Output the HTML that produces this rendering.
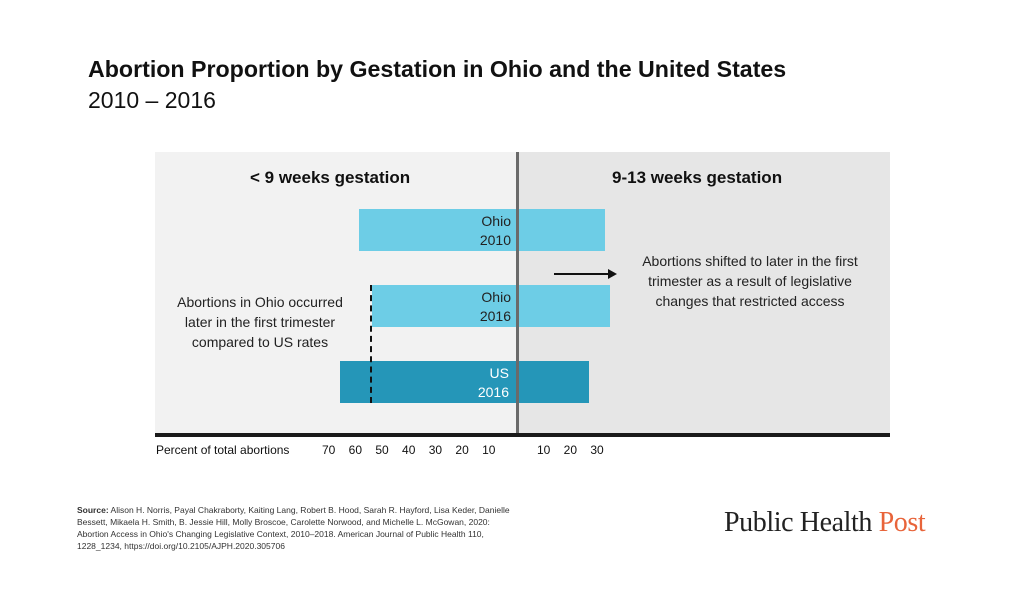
<!DOCTYPE html>
<html><head><meta charset="utf-8"><style>
body{margin:0;width:1024px;height:594px;background:#fff;position:relative;overflow:hidden;font-family:"Liberation Sans",sans-serif;color:#111}
.a{position:absolute}
.t{white-space:nowrap}
</style></head><body>
<div class="a t" style="left:88px;top:56px;font-size:23.2px;font-weight:bold">Abortion Proportion by Gestation in Ohio and the United States</div>
<div class="a t" style="left:88px;top:87px;font-size:23px">2010 – 2016</div>

<div class="a" style="left:155px;top:152px;width:363px;height:283px;background:#f2f2f2"></div>
<div class="a" style="left:518px;top:152px;width:372px;height:283px;background:#e6e6e6"></div>

<div class="a" style="left:359px;top:209px;width:246px;height:42px;background:#6dcde6"></div>
<div class="a" style="left:372px;top:285px;width:238px;height:42px;background:#6dcde6"></div>
<div class="a" style="left:340px;top:361px;width:249px;height:42px;background:#2596b8"></div>

<div class="a" style="left:516px;top:152px;width:3px;height:283px;background:#6a6a6a"></div>
<div class="a" style="left:155px;top:433px;width:735px;height:4px;background:#1a1a1a"></div>
<div class="a" style="left:370px;top:285px;height:118px;border-left:2px dashed #111"></div>

<div class="a t" style="left:250px;top:168px;font-size:17px;font-weight:bold">&lt; 9 weeks gestation</div>
<div class="a t" style="left:612px;top:168px;font-size:17px;font-weight:bold">9-13 weeks gestation</div>

<div class="a" style="left:440px;top:212px;width:71px;text-align:right;font-size:14px;line-height:19px;color:#222">Ohio<br>2010</div>
<div class="a" style="left:440px;top:288px;width:71px;text-align:right;font-size:14px;line-height:19px;color:#222">Ohio<br>2016</div>
<div class="a" style="left:440px;top:364px;width:69px;text-align:right;font-size:14px;line-height:19px;color:#fff">US<br>2016</div>

<div class="a" style="left:160px;top:292px;width:200px;text-align:center;font-size:14px;line-height:20px;color:#222">Abortions in Ohio occurred<br>later in the first trimester<br>compared to US rates</div>
<div class="a" style="left:615px;top:251px;width:270px;text-align:center;font-size:14px;line-height:20px;color:#222">Abortions shifted to later in the first<br>trimester as a result of legislative<br>changes that restricted access</div>
<svg class="a" style="left:550px;top:266px" width="70" height="16"><line x1="4" y1="8" x2="60" y2="8" stroke="#111" stroke-width="2"/><polygon points="58,3 67,8 58,13" fill="#111"/></svg>

<div class="a t" style="left:156px;top:443px;font-size:12px">Percent of total abortions</div>
<div class="a t" style="left:322px;top:443px;font-size:12px;word-spacing:10px">70 60 50 40 30 20 10</div>
<div class="a t" style="left:537px;top:443px;font-size:12px;word-spacing:10px">10 20 30</div>

<div class="a" style="left:77px;top:504px;width:450px;font-size:8.5px;line-height:12px;color:#333"><b>Source:</b> Alison H. Norris, Payal Chakraborty, Kaiting Lang, Robert B. Hood, Sarah R. Hayford, Lisa Keder, Danielle<br>Bessett, Mikaela H. Smith, B. Jessie Hill, Molly Broscoe, Carolette Norwood, and Michelle L. McGowan, 2020:<br>Abortion Access in Ohio's Changing Legislative Context, 2010–2018. American Journal of Public Health 110,<br>1228_1234, https://doi.org/10.2105/AJPH.2020.305706</div>
<div class="a t" style="left:724px;top:507px;font-size:28px;font-family:'Liberation Serif',serif;color:#222;letter-spacing:-0.4px">Public Health <span style="color:#e8643a">Post</span></div>
</body></html>
